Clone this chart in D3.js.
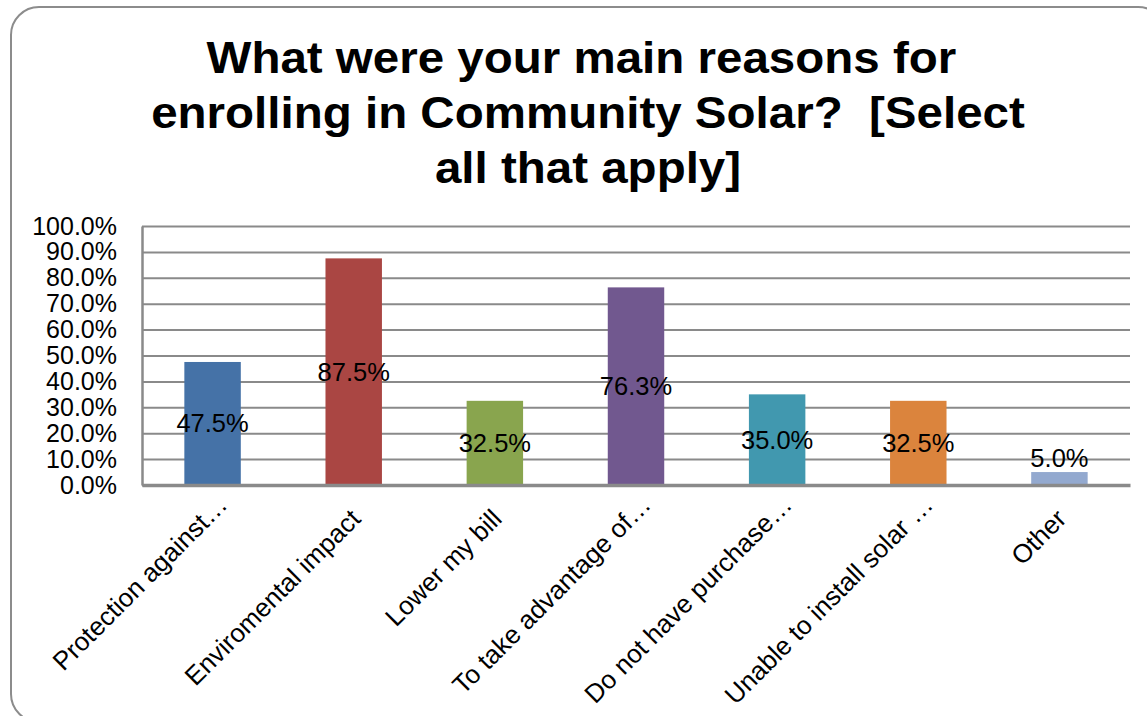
<!DOCTYPE html>
<html>
<head>
<meta charset="utf-8">
<script src="https://cdn.jsdelivr.net/npm/d3@7"></script>
<style>
  html, body { margin: 0; padding: 0; background: #ffffff; }
  svg { display: block; font-family: "Liberation Sans", Arial, Helvetica, sans-serif; }
</style>
</head>
<body>
<svg id="chart" width="1147" height="716"></svg>
<script>
const titleLines = ["What were your main reasons for ", "enrolling in Community Solar?  [Select", "all that apply]"];
const categories = ["Protection against\u2026", "Enviromental impact", "Lower my bill", "To take advantage of\u2026", "Do not have purchase\u2026", "Unable to install solar \u2026", "Other"];
const values = [47.5, 87.5, 32.5, 76.3, 35.0, 32.5, 5.0];
const barColors = ["#4572A7", "#AA4643", "#89A54E", "#71588F", "#4198AF", "#DB843D", "#93A9CF"];
const yTicks = [0, 10, 20, 30, 40, 50, 60, 70, 80, 90, 100];

const W = 1147, H = 716;
const plot = { left: 142, right: 1130, top: 226, bottom: 485 };
const svg = d3.select("#chart");

// frame
svg.append("rect")
  .attr("x", 11).attr("y", 7).attr("width", 1155).attr("height", 715)
  .attr("rx", 28).attr("ry", 28)
  .attr("fill", "#ffffff").attr("stroke", "#8c8c8c").attr("stroke-width", 2);

// title
const title = svg.append("g").attr("transform", "translate(588,0)");
title.selectAll("text").data(titleLines).join("text")
  .attr("transform", (d, i) => `translate(0,${73 + i * 55}) scale(1.08,1.02)`)
  .attr("text-anchor", "middle")
  .style("white-space", "pre")
  .attr("font-size", 44).attr("font-weight", "bold").attr("fill", "#000")
  .text(d => d);

const x = d3.scaleBand().domain(categories).range([plot.left, plot.right])
  .paddingInner(0.6).paddingOuter(0.3);
const y = d3.scaleLinear().domain([0, 100]).range([plot.bottom, plot.top]);

// gridlines
const grid = svg.append("g").attr("transform", `translate(${plot.left},0)`)
  .call(d3.axisLeft(y).tickValues(yTicks).tickSize(-(plot.right - plot.left)).tickFormat(""));
grid.select(".domain").remove();
grid.selectAll(".tick line").attr("stroke", "#8a8a8a").attr("stroke-width", 2);

// y axis
const yAxis = svg.append("g").attr("transform", `translate(${plot.left},0)`)
  .call(d3.axisLeft(y).tickValues(yTicks).tickSize(0).tickPadding(25)
    .tickFormat(d => d.toFixed(1) + "%"));
yAxis.select(".domain").attr("stroke", "#8a8a8a").attr("stroke-width", 2.5);
yAxis.selectAll(".tick text").attr("font-size", 25).attr("fill", "#000")
  .attr("font-family", "Liberation Sans, Arial, sans-serif");

// bars
svg.append("g").selectAll("rect").data(values).join("rect")
  .attr("x", (d, i) => x(categories[i]))
  .attr("y", d => y(d))
  .attr("width", x.bandwidth())
  .attr("height", d => y(0) - y(d))
  .attr("fill", (d, i) => barColors[i]);

// x axis
const xAxis = svg.append("g").attr("transform", `translate(0,${plot.bottom})`)
  .call(d3.axisBottom(x).tickSize(0).tickFormat(""));
xAxis.select(".domain").attr("stroke", "#8a8a8a").attr("stroke-width", 3.5);

// data labels
svg.append("g").selectAll("text").data(values).join("text")
  .attr("x", (d, i) => x(categories[i]) + x.bandwidth() / 2)
  .attr("y", d => {
    const h = y(0) - y(d);
    return h < 26 ? y(d) - 14 : (y(d) + y(0)) / 2;
  })
  .attr("dy", "0.35em")
  .attr("text-anchor", "middle")
  .attr("font-size", 25.5).attr("fill", "#000")
  .text(d => d.toFixed(1) + "%");

// category labels
svg.append("g").selectAll("text").data(categories).join("text")
  .attr("transform", d => {
    const cx = x(d) + x.bandwidth() / 2;
    const trunc = d.endsWith("\u2026");
    const px = cx + (trunc ? 10 : 2);
    const py = trunc ? 500 : 514;
    return `translate(${px},${py}) rotate(-45)`;
  })
  .attr("dy", "0.35em")
  .attr("text-anchor", "end")
  .attr("font-size", 26).attr("fill", "#000")
  .text(d => d);
</script>
</body>
</html>
